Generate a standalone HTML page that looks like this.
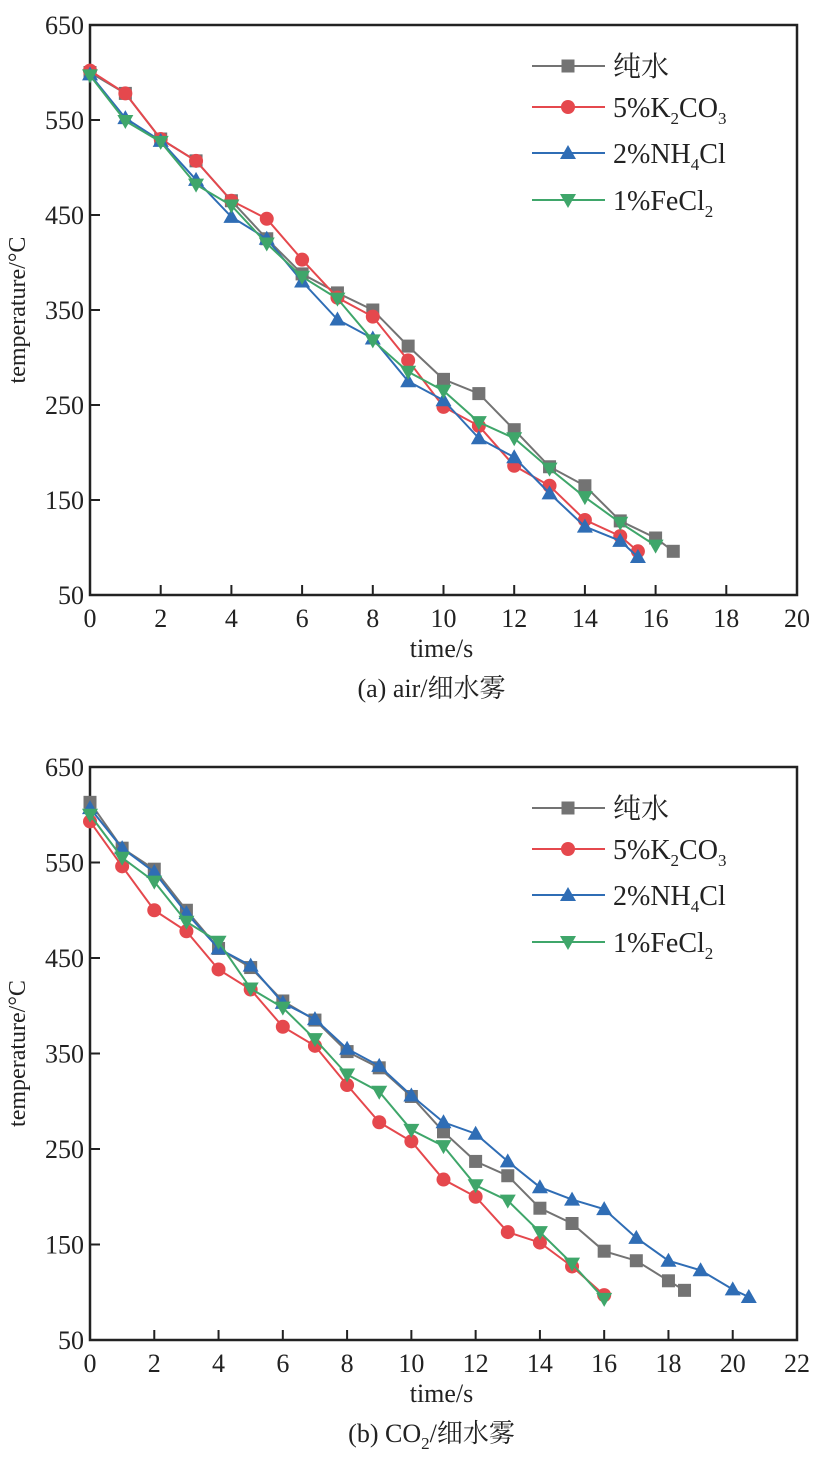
<!DOCTYPE html>
<html><head><meta charset="utf-8">
<style>
body{margin:0;background:#fff;}
svg{display:block;font-family:"Liberation Serif","Noto Serif CJK SC",serif;}
</style></head>
<body>
<svg id="svg" width="815" height="1466" viewBox="0 0 815 1466" xmlns="http://www.w3.org/2000/svg"></svg>
<script>
// Chart A data (air)
const aWaterX=[0,1,2,3,4,5,6,7,8,9,10,11,12,13,14,15,16,16.5];
const aWaterY=[600,578,530,507,465,425,388,368,350,312,277,262,224,185,165,128,110,96];
const aK2X=[0,1,2,3,4,5,6,7,8,9,10,11,12,13,14,15,15.5];
const aK2Y=[602,578,530,507,465,446,403,363,343,297,248,228,186,165,129,112,96];
const aNHX=[0,1,2,3,4,5,6,7,8,9,10,11,12,13,14,15,15.5];
const aNHY=[598,552,528,487,448,425,380,340,320,275,255,215,195,157,122,107,90];
const aFeX=[0,1,2,3,4,5,6,7,8,9,10,11,12,13,14,15,16];
const aFeY=[597,549,527,482,460,420,385,362,318,285,265,232,215,183,153,126,102];
const aXTicks=[0,2,4,6,8,10,12,14,16,18,20];
const yTicks=[50,150,250,350,450,550,650];
// Chart B data (CO2)
const bWaterX=[0,1,2,3,4,5,6,7,8,9,10,11,12,13,14,15,16,17,18,18.5];
const bWaterY=[613,565,543,500,460,440,405,385,352,335,305,268,237,222,188,172,143,133,112,102];
const bK2X=[0,1,2,3,4,5,6,7,8,9,10,11,12,13,14,15,16];
const bK2Y=[593,546,500,478,438,417,378,358,317,278,258,218,200,163,152,127,97];
const bNHX=[0,1,2,3,4,5,6,7,8,9,10,11,12,13,14,15,16,17,18,19,20,20.5];
const bNHY=[607,565,540,497,460,442,403,386,355,337,306,278,266,237,210,197,187,157,133,123,103,95];
const bFeX=[0,1,2,3,4,5,6,7,8,9,10,11,12,13,14,15,16];
const bFeY=[600,555,530,488,467,418,398,365,328,310,270,253,212,196,163,130,93];
const bXTicks=[0,2,4,6,8,10,12,14,16,18,20,22];

const NS="http://www.w3.org/2000/svg";
const svg=document.getElementById('svg');
function el(tag,attrs,parent){const e=document.createElementNS(NS,tag);for(const k in attrs)e.setAttribute(k,attrs[k]);(parent||svg).appendChild(e);return e;}
const COL={water:'#737373',k2:'#e5484d',nh:'#2f6db5',fe:'#3fa66a'};

function marker(g,type,x,y,c){
  let m;
  if(type==='sq') m=el('rect',{x:x-6.5,y:y-6.5,width:13,height:13,fill:c},g);
  else if(type==='ci') m=el('circle',{cx:x,cy:y,r:7,fill:c},g);
  else if(type==='up') m=el('polygon',{points:`${x},${y-8} ${x-8},${y+6} ${x+8},${y+6}`,fill:c},g);
  else m=el('polygon',{points:`${x},${y+8} ${x-8},${y-6} ${x+8},${y-6}`,fill:c},g);
  
  
}

function chart(o){
  const L=90,R=797,T=o.top,B=o.bottom;
  const sx=v=>L+(v-o.xmin)/(o.xmax-o.xmin)*(R-L);
  const sy=v=>B-(v-50)/600*(B-T);
  const g=el('g',{});
  
  
  const frame=el('rect',{x:L,y:T,width:R-L,height:B-T,fill:'none',stroke:'#222','stroke-width':2.5},g);
  
  
  o.xt.forEach(v=>{
    el('line',{x1:sx(v),x2:sx(v),y1:B,y2:B-10,stroke:'#222','stroke-width':2},g);
    const t=el('text',{x:sx(v),y:B+32,'font-size':26,'text-anchor':'middle',fill:'#222'},g);
    t.textContent=v;
    
    
  });
  yTicks.forEach(v=>{
    el('line',{x1:L,x2:L+10,y1:sy(v),y2:sy(v),stroke:'#222','stroke-width':2},g);
    const t=el('text',{x:L-6,y:sy(v)+9,'font-size':26,'text-anchor':'end',fill:'#222'},g);
    t.textContent=v;
    
    
  });
  const xt=el('text',{x:(L+R)/2-2,y:B+62,'font-size':26,'text-anchor':'middle',fill:'#222'},g);
  xt.textContent='time/s';
  
  
  const yt=el('text',{x:0,y:0,'font-size':24,'text-anchor':'middle',fill:'#222',transform:`translate(25,${(T+B)/2}) rotate(-90)`},g);
  yt.textContent='temperature/°C';
  
  
  o.series.forEach(s=>{
    const sg=el('g',{},g);
    
    
    const pts=s.x.map((v,i)=>sx(v)+','+sy(s.y[i])).join(' ');
    const pl=el('polyline',{points:pts,fill:'none',stroke:COL[s.key],'stroke-width':2},sg);
    
    
    s.x.forEach((v,i)=>marker(sg,s.m,sx(v),sy(s.y[i]),COL[s.key]));
  });
  // legend
  const lg=el('g',{},g);
  
  
  const rows=[['water','sq','纯水'],['k2','ci','5%K<tspan font-size="17" dy="7">2</tspan><tspan dy="-7">CO</tspan><tspan font-size="17" dy="7">3</tspan>'],['nh','up','2%NH<tspan font-size="17" dy="7">4</tspan><tspan dy="-7">Cl</tspan>'],['fe','dn','1%FeCl<tspan font-size="17" dy="7">2</tspan>']];
  const ly=[T+41,T+82,T+128,T+175];
  rows.forEach((r,i)=>{
    const eg=el('g',{},lg);
    
    
    el('line',{x1:532,x2:605,y1:ly[i],y2:ly[i],stroke:COL[r[0]],'stroke-width':2},eg);
    marker(eg,r[1],568,ly[i],COL[r[0]]);
    const t=el('text',{x:613,y:ly[i]+10,'font-size':28,fill:'#222'},eg);
    t.innerHTML=r[2];
  });
  const cap=el('text',{x:(L+R)/2-12,y:B+102,'font-size':26,'text-anchor':'middle',fill:'#222'},g);
  cap.innerHTML=o.cap;
  
  
}
chart({name:'chart-air',top:25,bottom:595,xmin:0,xmax:20,xt:aXTicks,cap:'(a) air/细水雾',
  series:[{key:'water',m:'sq',x:aWaterX,y:aWaterY},{key:'k2',m:'ci',x:aK2X,y:aK2Y},{key:'nh',m:'up',x:aNHX,y:aNHY},{key:'fe',m:'dn',x:aFeX,y:aFeY}]});
chart({name:'chart-co2',top:767,bottom:1340,xmin:0,xmax:22,xt:bXTicks,cap:'(b) CO<tspan font-size="17" dy="7">2</tspan><tspan dy="-7">/细水雾</tspan>',
  series:[{key:'water',m:'sq',x:bWaterX,y:bWaterY},{key:'k2',m:'ci',x:bK2X,y:bK2Y},{key:'nh',m:'up',x:bNHX,y:bNHY},{key:'fe',m:'dn',x:bFeX,y:bFeY}]});
</script>
</body></html>
